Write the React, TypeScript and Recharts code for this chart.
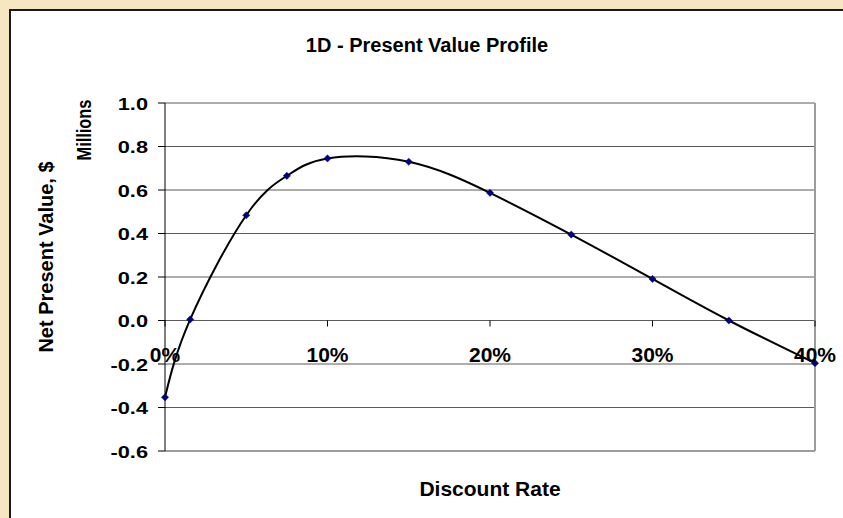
import React from 'react';
import { LineChart, Line, XAxis, YAxis, CartesianGrid, ReferenceLine } from 'recharts';

// ---- data ----
const RATES = [0, 0.0155, 0.05, 0.075, 0.1, 0.15, 0.2, 0.25, 0.3, 0.347, 0.4];
const NPV = [-0.353, 0.005, 0.484, 0.665, 0.745, 0.73, 0.587, 0.395, 0.191, 0.0, -0.196];
const X_TICKS = [0, 0.1, 0.2, 0.3, 0.4];
const Y_TICKS = [-0.6, -0.4, -0.2, 0, 0.2, 0.4, 0.6, 0.8, 1.0];
const TITLE = '1D - Present Value Profile';
const X_TITLE = 'Discount Rate';
const Y_TITLE = 'Net Present Value, $';
const Y_UNITS = 'Millions';

const data = RATES.map((r, i) => ({ rate: r, npv: NPV[i] }));

// ---- layout ----
const W = 843;
const H = 518;
const PLOT_LEFT = 165;
const PLOT_TOP = 103;
const PLOT_RIGHT = 815;
const PLOT_BOTTOM = 451;
const Y_MIN = -0.6;
const Y_MAX = 1.0;
const Y_AXIS_W = 60;
const X_AXIS_H = 30;
const ZERO_Y = PLOT_TOP + (PLOT_BOTTOM - PLOT_TOP) * (Y_MAX / (Y_MAX - Y_MIN));
const FONT = '"Liberation Sans", Arial, Helvetica, sans-serif';

function XTick(props: any) {
  const { x, payload } = props;
  return (
    <g>
      <line x1={x} x2={x} y1={ZERO_Y} y2={ZERO_Y + 6} stroke="#000" strokeWidth={1} />
      <text
        x={x}
        y={ZERO_Y + 41}
        textAnchor="middle"
        fontSize={21}
        fontWeight="bold"
        fontFamily={FONT}
        fill="#000"
      >
        {Math.round(payload.value * 100) + '%'}
      </text>
    </g>
  );
}

function YTick(props: any) {
  const { x, y, payload } = props;
  return (
    <text
      transform={`translate(${x},${y + 6.5}) scale(1.28,1)`}
      textAnchor="end"
      fontSize={17}
      fontWeight="bold"
      fontFamily={FONT}
      fill="#000"
    >
      {Number(payload.value).toFixed(1)}
    </text>
  );
}

function Diamond(props: any) {
  const { cx, cy } = props;
  if (cx == null || cy == null) return null;
  const s = 3.6;
  return (
    <path
      d={`M${cx},${cy - s}L${cx + s},${cy}L${cx},${cy + s}L${cx - s},${cy}Z`}
      fill="#000080"
      stroke="#000080"
      strokeWidth={0.5}
    />
  );
}

export default function App() {
  return (
    <div
      style={{
        position: 'fixed',
        left: 0,
        top: 0,
        width: W,
        height: H,
        background: '#f6e6c2',
        overflow: 'hidden',
      }}
    >
      <div
        style={{
          position: 'absolute',
          left: 9,
          top: 9,
          right: 0,
          bottom: 0,
          background: '#ffffff',
          borderLeft: '2px solid #1a1a1a',
          borderTop: '2px solid #1a1a1a',
        }}
      />
      <div style={{ position: 'absolute', left: 0, top: 0 }}>
        <LineChart
          width={W}
          height={H}
          data={data}
          margin={{
            top: PLOT_TOP,
            right: W - PLOT_RIGHT,
            left: PLOT_LEFT - Y_AXIS_W,
            bottom: H - PLOT_BOTTOM - X_AXIS_H,
          }}
        >
          <CartesianGrid horizontal vertical={false} stroke="#5a5a5a" strokeWidth={1} />
          <ReferenceLine x={0.4} stroke="#9c9c9c" strokeWidth={2} ifOverflow="extendDomain" />
          <ReferenceLine y={-0.6} stroke="#9c9c9c" strokeWidth={2} />
          <XAxis
            dataKey="rate"
            type="number"
            domain={[0, 0.4]}
            ticks={X_TICKS}
            height={X_AXIS_H}
            axisLine={false}
            tickLine={false}
            tick={<XTick />}
            interval={0}
          />
          <YAxis
            type="number"
            domain={[Y_MIN, Y_MAX]}
            ticks={Y_TICKS}
            width={Y_AXIS_W}
            axisLine={{ stroke: '#000', strokeWidth: 1 }}
            tickLine={{ stroke: '#000', strokeWidth: 1 }}
            tickSize={7}
            tickMargin={10}
            tick={<YTick />}
            interval={0}
          />
          <Line
            dataKey="npv"
            type="natural"
            stroke="#000"
            strokeWidth={2}
            isAnimationActive={false}
            dot={(p: any) => <Diamond key={'d' + p.index} cx={p.cx} cy={p.cy} />}
            activeDot={false}
          />
        </LineChart>
      </div>
      <svg
        width={W}
        height={H}
        style={{ position: 'absolute', left: 0, top: 0, pointerEvents: 'none' }}
      >
        <text
          x={427}
          y={51.5}
          textAnchor="middle"
          fontSize={20}
          fontWeight="bold"
          fontFamily={FONT}
          fill="#000"
        >
          {TITLE}
        </text>
        <text
          x={490}
          y={496}
          textAnchor="middle"
          fontSize={21}
          fontWeight="bold"
          fontFamily={FONT}
          fill="#000"
        >
          {X_TITLE}
        </text>
        <text
          transform="translate(53,257) rotate(-90)"
          textAnchor="middle"
          fontSize={20}
          fontWeight="bold"
          fontFamily={FONT}
          fill="#000"
        >
          {Y_TITLE}
        </text>
        <text
          transform="translate(91,130) rotate(-90) scale(0.78,1)"
          textAnchor="middle"
          fontSize={21}
          fontWeight="bold"
          fontFamily={FONT}
          fill="#000"
        >
          {Y_UNITS}
        </text>
      </svg>
    </div>
  );
}
